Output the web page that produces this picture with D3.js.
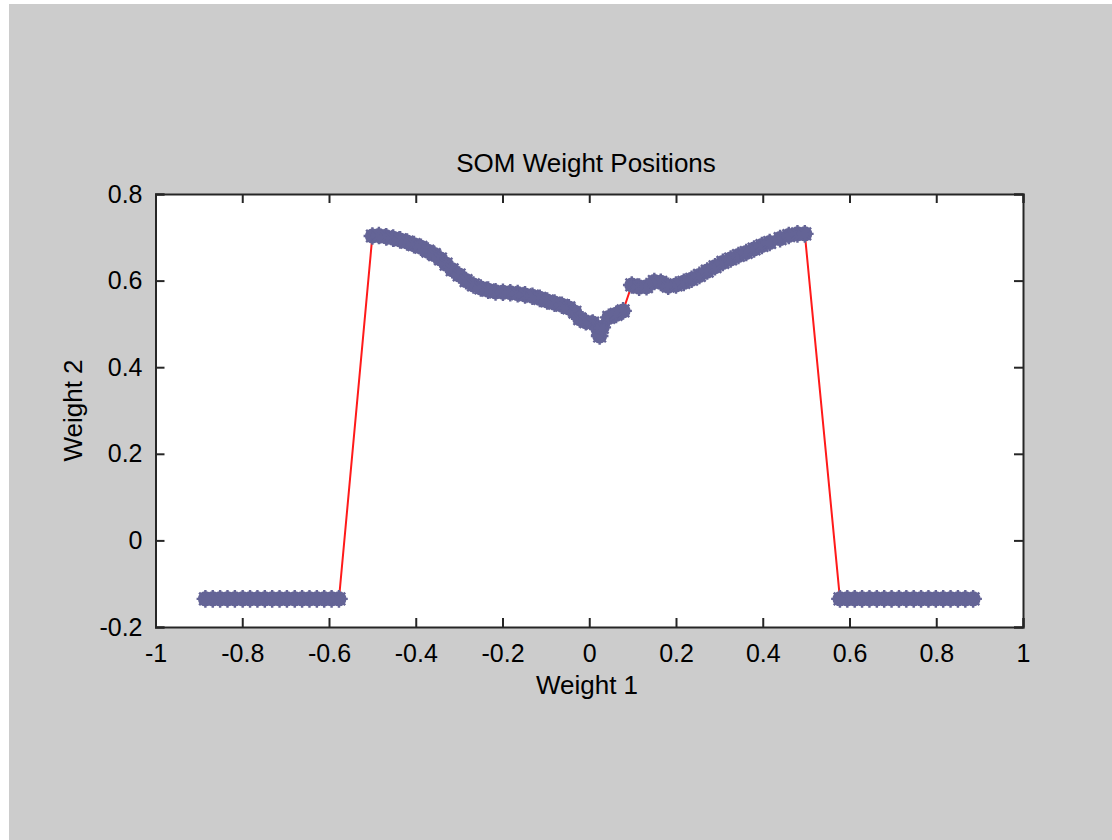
<!DOCTYPE html>
<html>
<head>
<meta charset="utf-8">
<script src="https://cdn.jsdelivr.net/npm/d3@7"></script>
<style>
  html, body { margin: 0; padding: 0; background: #ffffff; }
  svg { display: block; }
  text { font-family: "Liberation Sans", Arial, sans-serif; fill: #000; }
</style>
</head>
<body>
<script>
// SOM neuron weights (1-D chain of 100 neurons), in chain order.
const leftTailX = [-0.885, -0.868, -0.851, -0.834, -0.817, -0.799, -0.782, -0.765, -0.748, -0.731,
                   -0.714, -0.697, -0.679, -0.662, -0.645, -0.628, -0.611, -0.594, -0.577];
const leftTailY = [-0.135, -0.135, -0.135, -0.135, -0.135, -0.135, -0.135, -0.135, -0.135, -0.135,
                   -0.135, -0.135, -0.135, -0.135, -0.135, -0.135, -0.135, -0.135, -0.135];

const archX = [-0.500, -0.485, -0.468, -0.452, -0.436, -0.420, -0.404, -0.388, -0.372, -0.357,
               -0.343, -0.330, -0.316, -0.300, -0.284, -0.267, -0.250, -0.233, -0.216, -0.199,
               -0.182, -0.165, -0.148, -0.131, -0.114, -0.097, -0.080, -0.063, -0.047, -0.033,
               -0.022, -0.008, 0.008, 0.020, 0.024, 0.030, 0.045, 0.062, 0.078, 0.098,
               0.115, 0.132, 0.150, 0.165, 0.182, 0.200, 0.218, 0.236, 0.254, 0.272,
               0.290, 0.308, 0.326, 0.344, 0.362, 0.380, 0.398, 0.416, 0.440, 0.460,
               0.480, 0.497];
const archY = [0.703, 0.704, 0.701, 0.698, 0.694, 0.689, 0.683, 0.677, 0.668, 0.660,
               0.650, 0.638, 0.625, 0.613, 0.600, 0.590, 0.583, 0.578, 0.574, 0.573,
               0.572, 0.570, 0.567, 0.564, 0.559, 0.553, 0.548, 0.543, 0.537, 0.527,
               0.512, 0.505, 0.502, 0.488, 0.472, 0.492, 0.515, 0.522, 0.530, 0.590,
               0.585, 0.586, 0.598, 0.596, 0.587, 0.590, 0.596, 0.603, 0.612, 0.622,
               0.632, 0.642, 0.650, 0.658, 0.665, 0.673, 0.681, 0.688, 0.697, 0.704,
               0.708, 0.708];

const rightTailX = [0.578, 0.595, 0.612, 0.629, 0.646, 0.663, 0.680, 0.697, 0.714, 0.731,
                    0.748, 0.765, 0.782, 0.799, 0.816, 0.833, 0.850, 0.867, 0.885];
const rightTailY = [-0.135, -0.135, -0.135, -0.135, -0.135, -0.135, -0.135, -0.135, -0.135, -0.135,
                    -0.135, -0.135, -0.135, -0.135, -0.135, -0.135, -0.135, -0.135, -0.135];

const xTicks = [-1, -0.8, -0.6, -0.4, -0.2, 0, 0.2, 0.4, 0.6, 0.8, 1];
const yTicks = [-0.2, 0, 0.2, 0.4, 0.6, 0.8];

const titleText = "SOM Weight Positions";
const xLabelText = "Weight 1";
const yLabelText = "Weight 2";

const weights = [];
[[leftTailX, leftTailY], [archX, archY], [rightTailX, rightTailY]].forEach(([xs, ys]) => {
  xs.forEach((x, i) => weights.push({ x: x, y: ys[i] }));
});

const W = 1112, H = 840;
const svg = d3.select("body").append("svg").attr("width", W).attr("height", H);

// figure background
svg.append("rect").attr("x", 9).attr("y", 4).attr("width", W - 9).attr("height", H - 4)
  .attr("fill", "#cccccc");

const plot = { left: 155.5, right: 1023, top: 194, bottom: 627 };
const x = d3.scaleLinear().domain([-1, 1]).range([plot.left, plot.right]);
const y = d3.scaleLinear().domain([-0.2, 0.8]).range([plot.bottom, plot.top]);

// axes background
svg.append("rect")
  .attr("x", plot.left).attr("y", plot.top)
  .attr("width", plot.right - plot.left).attr("height", plot.bottom - plot.top)
  .attr("fill", "#ffffff");

// chain connecting neighbouring neurons
const line = d3.line().x(d => x(d.x)).y(d => y(d.y));
svg.append("path").datum(weights)
  .attr("d", line)
  .attr("fill", "none")
  .attr("stroke", "#ff1a1a")
  .attr("stroke-width", 2);

// neuron markers: filled disc with an asterisk of spokes
const markerColor = "#646496";
const spokes = (r) => {
  let p = "";
  for (let k = 0; k < 8; k++) {
    const a = k * Math.PI / 4;
    p += `M0,0L${(r * Math.cos(a)).toFixed(2)},${(r * Math.sin(a)).toFixed(2)}`;
  }
  return p;
};
const marks = svg.append("g");
marks.selectAll("g.neuron").data(weights).join("g")
  .attr("class", "neuron")
  .attr("transform", d => `translate(${x(d.x)},${y(d.y)})`)
  .each(function () {
    const g = d3.select(this);
    g.append("circle").attr("r", 7.5).attr("fill", markerColor);
    g.append("path").attr("d", spokes(8.8))
      .attr("stroke", markerColor).attr("stroke-width", 2.4).attr("fill", "none");
  });

// axes with inward ticks on all four sides
const tickLen = 9;
const axisColor = "#262626";
// plain hyphen for negative numbers
const fmt = d => String(d);

const xAxisB = d3.axisBottom(x).tickValues(xTicks).tickSize(-tickLen).tickPadding(tickLen + 8).tickFormat(fmt);
const xAxisT = d3.axisTop(x).tickValues(xTicks).tickSize(-tickLen).tickFormat("");
const yAxisL = d3.axisLeft(y).tickValues(yTicks).tickSize(-tickLen).tickPadding(tickLen + 4).tickFormat(fmt);
const yAxisR = d3.axisRight(y).tickValues(yTicks).tickSize(-tickLen).tickFormat("");

function styleAxis(g) {
  g.select(".domain").attr("stroke", axisColor).attr("stroke-width", 2);
  g.selectAll(".tick line").attr("stroke", axisColor).attr("stroke-width", 2);
  g.selectAll(".tick text").attr("font-size", 25).attr("fill", "#000")
    .style("font-family", '"Liberation Sans", Arial, sans-serif');
}

svg.append("g").attr("transform", `translate(0,${plot.bottom})`).call(xAxisB).call(styleAxis);
svg.append("g").attr("transform", `translate(0,${plot.top})`).call(xAxisT).call(styleAxis);
svg.append("g").attr("transform", `translate(${plot.left},0)`).call(yAxisL).call(styleAxis);
svg.append("g").attr("transform", `translate(${plot.right},0)`).call(yAxisR).call(styleAxis);

// titles
svg.append("text")
  .attr("x", 586).attr("y", 172)
  .attr("text-anchor", "middle").attr("font-size", 26)
  .text(titleText);

svg.append("text")
  .attr("x", 587).attr("y", 694)
  .attr("text-anchor", "middle").attr("font-size", 26)
  .text(xLabelText);

svg.append("text")
  .attr("transform", `translate(82,${(plot.top + plot.bottom) / 2}) rotate(-90)`)
  .attr("text-anchor", "middle").attr("font-size", 26)
  .text(yLabelText);
</script>
</body>
</html>
